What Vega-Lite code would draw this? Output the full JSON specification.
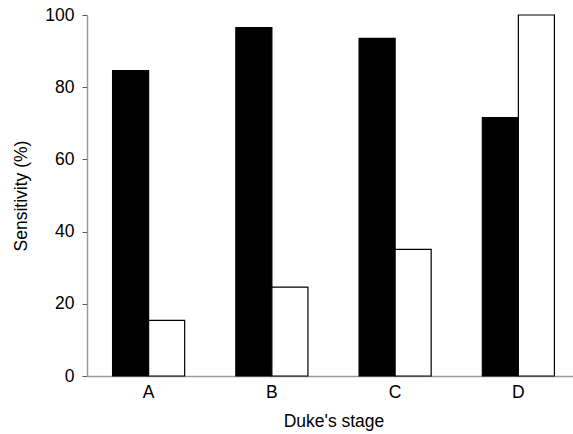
{
  "$schema": "https://vega.github.io/schema/vega-lite/v6.json",
  "autosize": "none",
  "padding": {"left": 87, "top": 15, "right": 0, "bottom": 58},
  "width": 493,
  "height": 361,
  "background": "white",
  "config": {
    "view": {"stroke": null},
    "font": "Liberation Sans",
    "axis": {"grid": false, "labelFont": "Liberation Sans", "titleFont": "Liberation Sans", "labelColor": "black", "titleColor": "black", "titleFontWeight": "normal", "labelFontSize": 17.5, "titleFontSize": 17.5}
  },
  "data": {
    "values": [
      {"stage": "A", "series": "1", "sensitivity": 84.6},
      {"stage": "A", "series": "2", "sensitivity": 15.4},
      {"stage": "B", "series": "1", "sensitivity": 96.5},
      {"stage": "B", "series": "2", "sensitivity": 24.6},
      {"stage": "C", "series": "1", "sensitivity": 93.5},
      {"stage": "C", "series": "2", "sensitivity": 35.1},
      {"stage": "D", "series": "1", "sensitivity": 71.6},
      {"stage": "D", "series": "2", "sensitivity": 100}
    ]
  },
  "mark": {"type": "bar", "stroke": "black", "strokeWidth": 1.2},
  "encoding": {
    "x": {
      "field": "stage", "type": "nominal",
      "scale": {"paddingInner": 0.415, "paddingOuter": 0.2075},
      "axis": {"title": "Duke's stage", "labelAngle": 0, "ticks": false, "domainColor": "#9a9a9a", "domainWidth": 1.5, "labelPadding": 7, "titlePadding": 12}
    },
    "xOffset": {"field": "series", "type": "nominal", "scale": {"paddingInner": 0, "paddingOuter": 0}},
    "y": {
      "field": "sensitivity", "type": "quantitative",
      "scale": {"domain": [0, 100], "nice": false},
      "axis": {"title": "Sensitivity (%)", "values": [0, 20, 40, 60, 80, 100], "tickSize": 5, "tickColor": "#555555", "domainColor": "#9a9a9a", "domainWidth": 1.5, "labelPadding": 8, "titlePadding": 14}
    },
    "fill": {
      "field": "series", "type": "nominal",
      "scale": {"domain": ["1", "2"], "range": ["black", "white"]},
      "legend": null
    }
  }
}
